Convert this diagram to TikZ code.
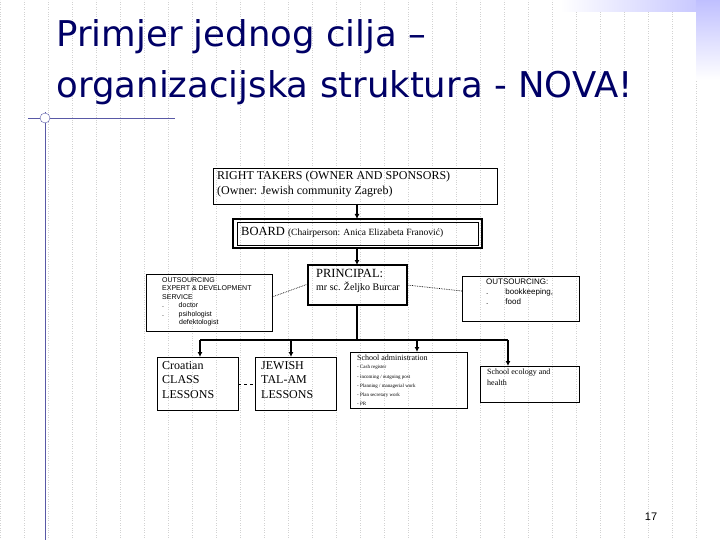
\documentclass[tikz,border=0pt]{standalone}
\usepackage{fontspec}
\setmainfont{Liberation Serif}
\newfontfamily\titlefont{DejaVu Sans}
\newfontfamily\smallsans{Liberation Sans}
\usetikzlibrary{arrows.meta}
\begin{document}
\begin{tikzpicture}[x=1pt,y=-1pt,
  arr/.style={line width=1.6pt,-{Latex[length=5pt,width=5pt]}},
  dot/.style={densely dotted,line width=0.7pt}]
\useasboundingbox (0,0) rectangle (720,540);
\fill[white] (0,0) rectangle (720,540);
\draw[gray!35,dotted] (0,0) grid[step=24] (720,540);
\shade[left color=white,right color=blue!25] (560,0) rectangle (720,12);
\shade[top color=blue!25,bottom color=white] (696,0) rectangle (720,80);
\draw[blue!30!gray] (45,112) -- (45,540);
\draw[blue!30!gray] (28,118) -- (175,118);
\draw[blue!30!gray,fill=white] (45,118) circle (5);
\node[anchor=west,text=blue!40!black,font=\titlefont\fontsize{35.5}{40}\selectfont] (t1) at (53,37) {Primjer jednog cilja –};
\node[anchor=west,text=blue!40!black,font=\titlefont\fontsize{35.5}{40}\selectfont] (t2) at (53,88) {organizacijska struktura - NOVA!};
% boxes
\draw[line width=0.8pt] (213,168) rectangle (497,204);
\node[anchor=north west,font=\fontsize{12}{15}\selectfont,align=left,inner sep=0pt] (rt) at (217,171) {RIGHT TAKERS (OWNER AND SPONSORS)\\(Owner: Jewish community Zagreb)};
\coordinate (rtb) at (357,204);
\draw[line width=2pt] (233,219) rectangle (482,248);
\draw[line width=0.6pt] (237,222) rectangle (478,245);
\node[anchor=west,inner sep=0pt] (bd) at (241,232) {\fontsize{12.5}{14}\selectfont BOARD {\fontsize{9.5}{11}\selectfont (Chairperson: Anica Elizabeta Franović)}};
\coordinate (bdt) at (357,219); \coordinate (bdb) at (357,248);
\draw[line width=2pt] (308,265) rectangle (407,305);
\node[anchor=north west,align=left,inner sep=0pt] (pr) at (316,269) {\fontsize{12.5}{16}\selectfont PRINCIPAL:\\[1pt]{\fontsize{10}{12}\selectfont mr sc. Željko Burcar}};
\coordinate (prt) at (357,265); \coordinate (prb) at (357,305);
\coordinate (prl) at (308,284); \coordinate (prr) at (407,285);
\draw[line width=0.8pt] (146,274) rectangle (272,331);
\node[anchor=north west,align=left,inner sep=0pt,font=\smallsans\fontsize{7}{8.5}\selectfont] (lo) at (162,277) {OUTSOURCING\\EXPERT \& DEVELOPMENT\\SERVICE\\.\hspace{12pt} doctor\\.\hspace{12pt} psihologist\\\hspace{17pt}defektologist};
\coordinate (lor) at (272,297);
\draw[line width=0.8pt] (462,276) rectangle (579,321);
\node[anchor=north west,align=left,inner sep=0pt,font=\smallsans\fontsize{8}{10}\selectfont] (ro) at (486,279) {OUTSOURCING:\\.\hspace{14pt} bookkeeping,\\.\hspace{14pt} food};
\coordinate (rol) at (462,291);
\draw[arr] (rtb) -- (bdt);
\draw[arr] (bdb) -- (prt);
\coordinate (hub) at (357,340);
\draw[line width=1.6pt] (prb) -- (hub);
\draw[line width=1.6pt] (200,340) -- (508,340);
\draw[dot] (lor) -- (prl);
\draw[dot] (prr) -- (rol);
% bottom boxes
\draw[line width=0.8pt] (157,357) rectangle (238,410);
\node[anchor=north west,align=left,inner sep=0pt,font=\fontsize{12}{14.5}\selectfont] (cr) at (162,361) {Croatian\\CLASS\\LESSONS};
\draw[line width=0.8pt] (255,357) rectangle (336,410);
\node[anchor=north west,align=left,inner sep=0pt,font=\fontsize{12}{14.5}\selectfont] (jw) at (261,361) {JEWISH\\TAL-AM\\LESSONS};
\draw[arr] (200,340) -- (200,357);
\draw[arr] (291,340) -- (291,357);
\draw[dashed,line width=0.8pt] (238,384) -- (255,384);
\draw[line width=0.8pt] (350,352) rectangle (467,408);
\node[anchor=north west,align=left,inner sep=0pt,font=\fontsize{8}{9}\selectfont] (ad) at (357,355) {School administration\\[-1pt]{\fontsize{5}{7}\selectfont - Cash register}\\[1pt]{\fontsize{5}{7}\selectfont - incoming / outgoing post}\\{\fontsize{5}{7}\selectfont - Planning / managerial work}\\{\fontsize{5}{7}\selectfont - Plan secretary work}\\{\fontsize{5}{7}\selectfont - PR}};
\draw[arr] (417,340) -- (417,352);
\draw[line width=0.8pt] (480,366) rectangle (579,402);
\node[anchor=north west,align=left,inner sep=0pt,font=\fontsize{8}{10.5}\selectfont] (hl) at (487,369) {School ecology and\\health};
\draw[arr] (508,340) -- (508,366);
\node[font=\smallsans\fontsize{11}{12}\selectfont] (pg) at (651,517) {17};
\end{tikzpicture}
\end{document}
